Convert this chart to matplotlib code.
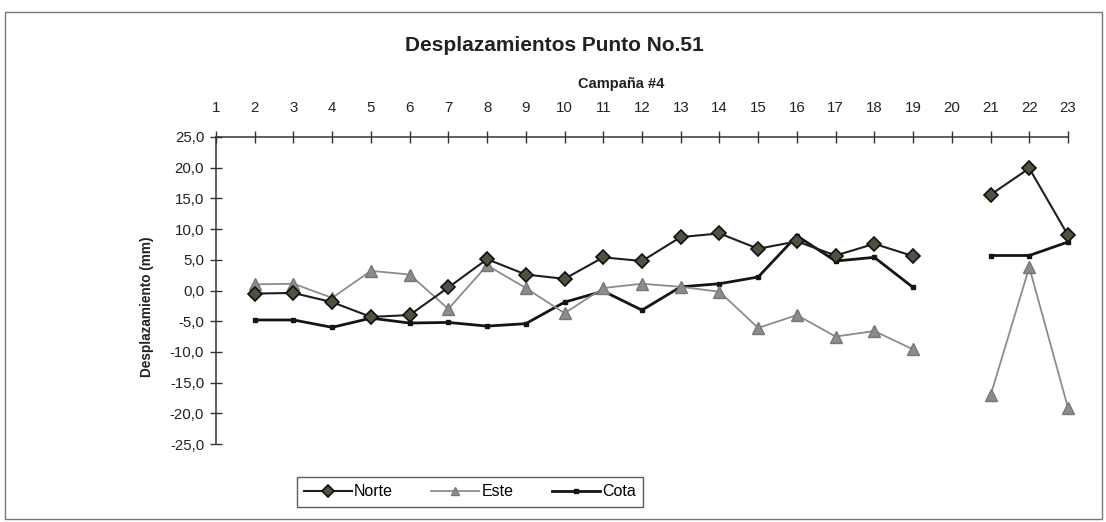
import numpy as np
import matplotlib
matplotlib.use("Agg")
import matplotlib.pyplot as plt
from matplotlib.patches import Rectangle

plt.rcParams['font.family'] = ['Liberation Sans', 'DejaVu Sans']

campanas = list(range(1, 24))
x_pts = list(range(2, 24))
nan = np.nan
norte = [-0.5, -0.4, -1.9, -4.3, -4.0, 0.5, 5.1, 2.6, 1.9, 5.4, 4.8, 8.7, 9.3, 6.8, 8.0, 5.7, 7.6, 5.6, nan, 15.6, 19.9, 9.0]
este = [1.0, 1.1, -1.2, 3.2, 2.6, -3.0, 4.1, 0.4, -3.7, 0.4, 1.1, 0.6, -0.2, -6.1, -4.0, -7.5, -6.6, -9.6, nan, -17.1, 3.8, -19.1]
cota = [-4.8, -4.8, -6.0, -4.5, -5.3, -5.2, -5.8, -5.4, -1.9, -0.1, -3.2, 0.6, 1.1, 2.2, 8.9, 4.8, 5.4, 0.5, nan, 5.7, 5.7, 7.9]
yticks = [25, 20, 15, 10, 5, 0, -5, -10, -15, -20, -25]
ytick_labels = ["25,0", "20,0", "15,0", "10,0", "5,0", "0,0", "-5,0", "-10,0", "-15,0", "-20,0", "-25,0"]

fig = plt.figure(figsize=(11.06, 5.22), dpi=100)
fig.patch.set_facecolor('white')
ax = fig.add_axes([216/1106, 1-444/522, (1068-216)/1106, (444-137)/522])

ax.plot(x_pts, cota, color='#151515', lw=2.0, marker='s', ms=3, mfc='#151515', mec='#151515',
        label='Cota', zorder=2, clip_on=False)
ax.plot(x_pts, este, color='#8c8c8c', lw=1.3, marker='^', ms=8.5, mfc='#8c8c8c', mec='#777777',
        label='Este', zorder=3, clip_on=False)
ax.plot(x_pts, norte, color='#1e1e1e', lw=1.5, marker='D', ms=7.5, mfc='#4a5540', mec='#111111', mew=1.2,
        label='Norte', zorder=4, clip_on=False)

ax.set_xlim(1, 23)
ax.set_ylim(-25, 25)
ax.set_xticks(campanas)
ax.xaxis.tick_top()
ax.set_yticks(yticks)
ax.set_yticklabels(ytick_labels)
for s in ['bottom', 'right']:
    ax.spines[s].set_visible(False)
for s in ['top', 'left']:
    ax.spines[s].set_color('#333333')
    ax.spines[s].set_linewidth(1.1)
ax.tick_params(axis='both', direction='inout', length=9, width=1, colors='#333333', labelsize=10.8, labelcolor='#222222')
ax.tick_params(axis='x', pad=11.5)
ax.tick_params(axis='y', pad=4)
ax.set_ylabel('Desplazamiento (mm)', fontsize=9.8, fontweight='bold', color='#222222')
ax.yaxis.set_label_coords(-0.073, 0.446)
ax.set_facecolor('none')

fig.text(554/1106, 1-45/522, 'Desplazamientos Punto No.51', ha='center', va='center', fontsize=15, fontweight='bold', color='#222222')
fig.text(621/1106, 1-84/522, 'Campaña #4', ha='center', va='center', fontsize=10.5, fontweight='bold', color='#222222')

handles, labels = ax.get_legend_handles_labels()
order = [2, 1, 0]
leg = fig.legend([handles[i] for i in order], [labels[i] for i in order], loc='center',
                 bbox_to_anchor=(470/1106, 1-492/522), ncol=3, frameon=True, fancybox=False,
                 edgecolor='#333333', fontsize=11.5, handlelength=3.0, columnspacing=2.4,
                 handletextpad=0.15, borderpad=0.45, markerscale=0.75)
leg.get_frame().set_linewidth(1.0)

fig.patches.append(Rectangle((5/1106, 3/522), 1097/1106, 507/522, transform=fig.transFigure,
                             fill=False, edgecolor='#777777', lw=1.0))

fig.savefig('out.png', dpi=100)
